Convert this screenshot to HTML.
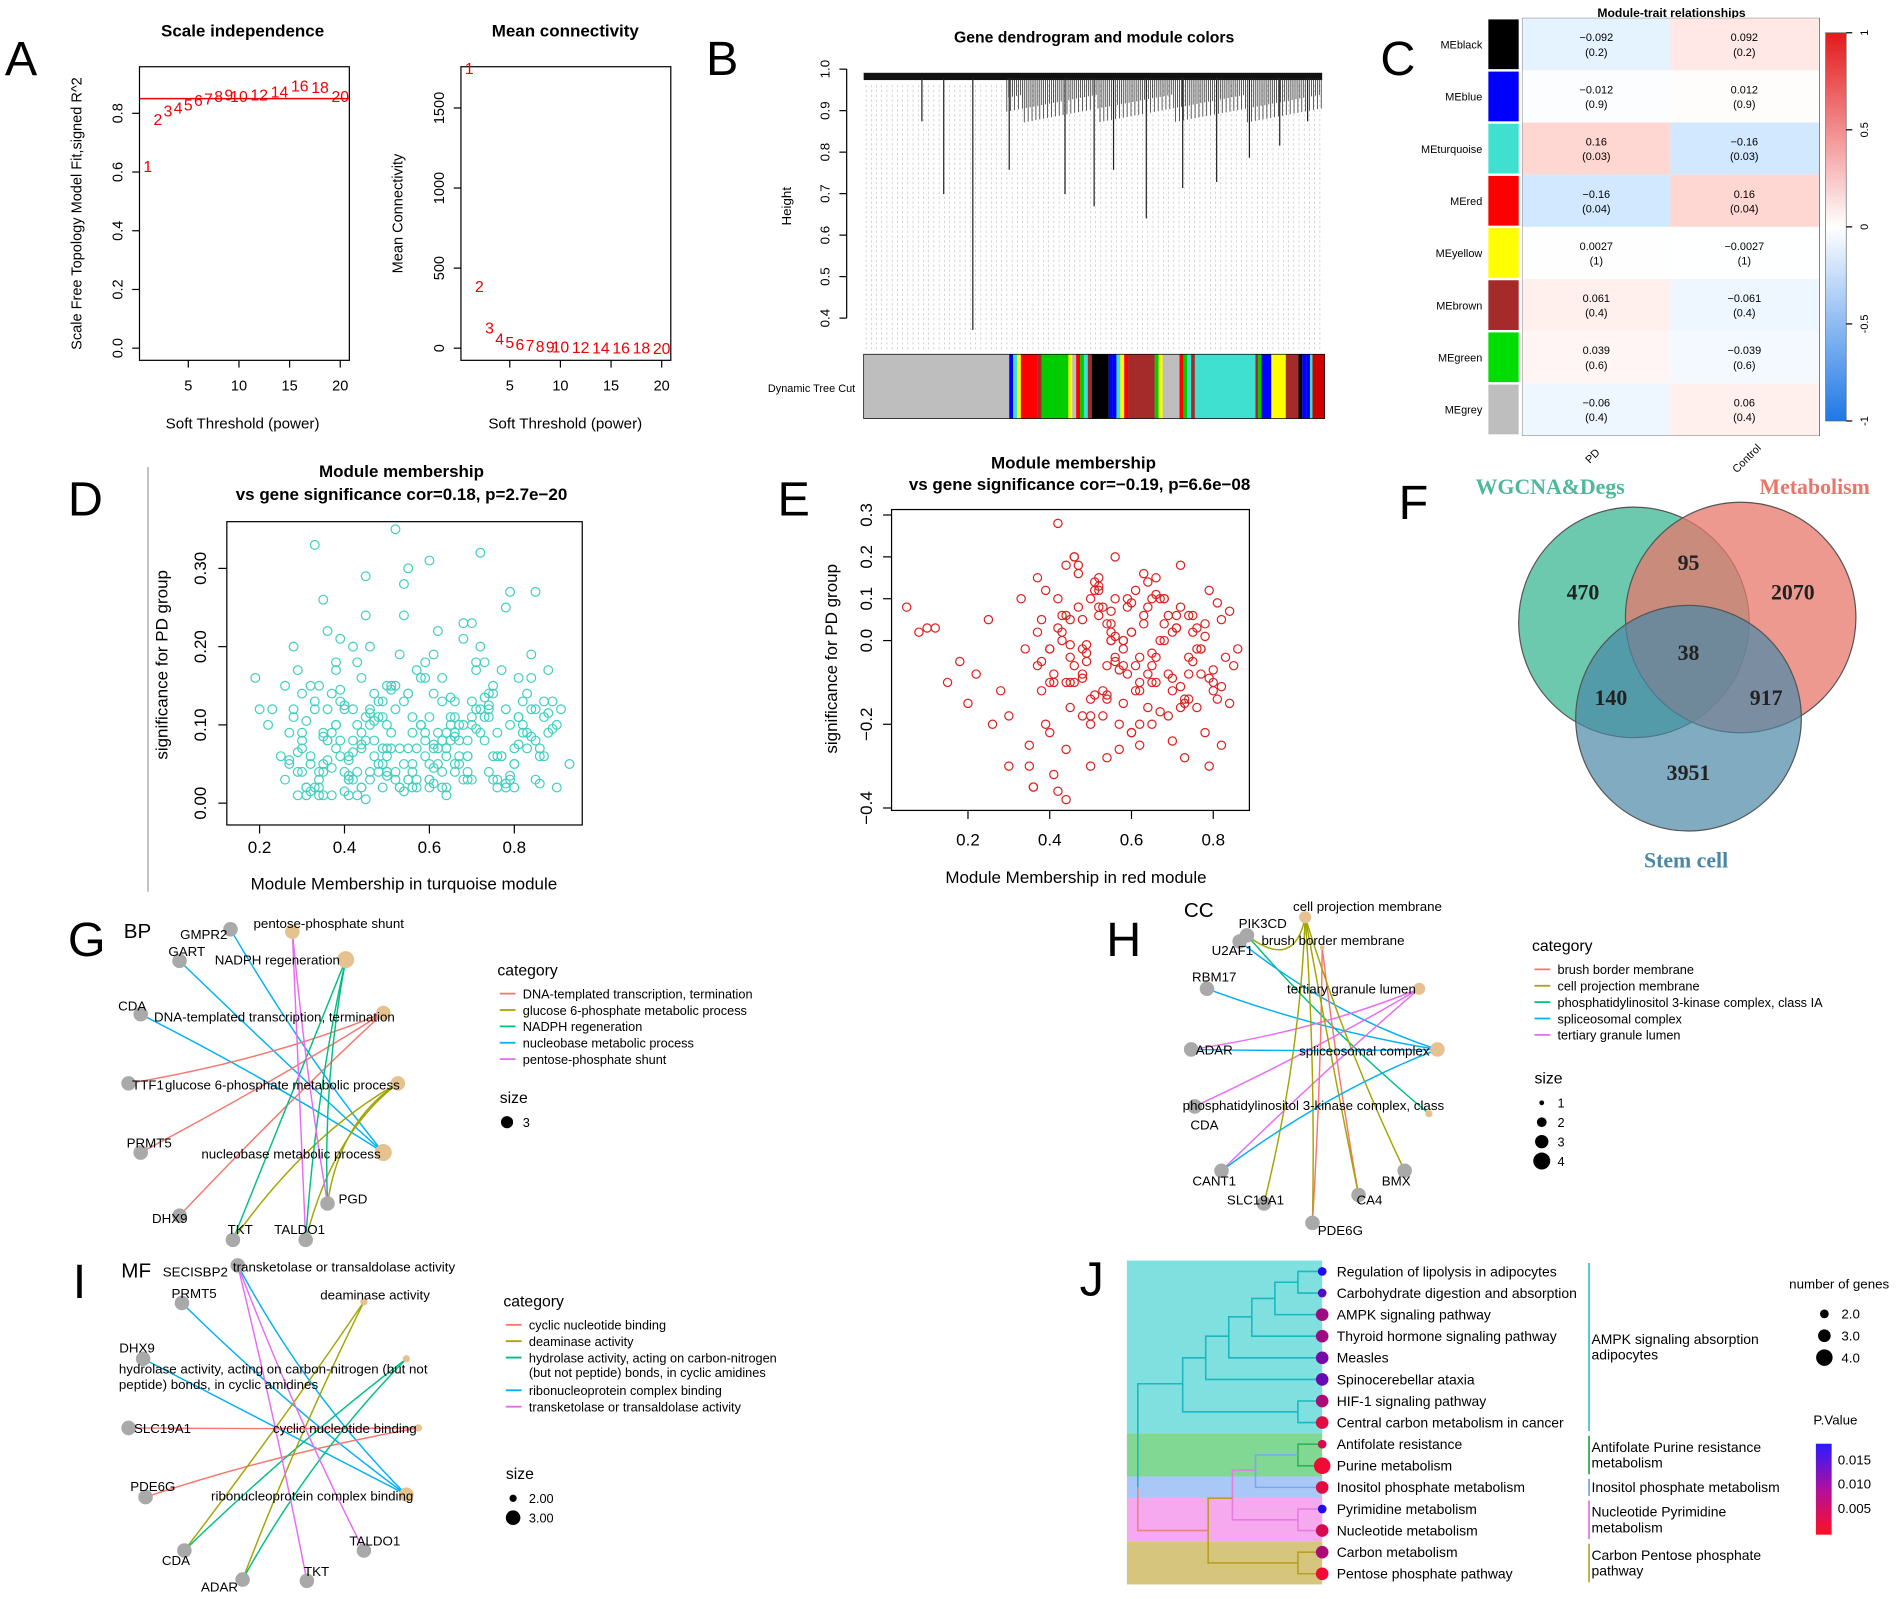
<!DOCTYPE html>
<html><head><meta charset="utf-8"><style>
html,body{margin:0;padding:0;background:#fff;}
svg{display:block;font-family:"Liberation Sans",Arial,sans-serif;}
</style></head><body>
<svg id="fig" width="1902" height="1599" viewBox="0 0 1568 1318" preserveAspectRatio="none" xmlns="http://www.w3.org/2000/svg">
<rect width="1568" height="1318" fill="#fff"/>
<g font-size="40" fill="#000">
<text x="4" y="62">A</text><text x="582" y="62">B</text><text x="1138" y="62">C</text>
<text x="56" y="425">D</text><text x="641" y="425">E</text><text x="1153" y="428">F</text>
<text x="56" y="788">G</text><text x="912" y="788">H</text><text x="60" y="1070">I</text><text x="890" y="1068">J</text>
</g>
<line x1="122" y1="385" x2="122" y2="735" stroke="#999" stroke-width="1"/>

<g id="pa">
<text x="200" y="30" font-size="14" font-weight="bold" text-anchor="middle">Scale independence</text>
<rect x="115" y="55" width="173" height="242" fill="none" stroke="#000"/>
<text x="200" y="353" font-size="12.5" text-anchor="middle">Soft Threshold (power)</text>
<text transform="translate(67,176) rotate(-90)" font-size="12" text-anchor="middle">Scale Free Topology Model Fit,signed R^2</text>
</g>
<g id="pa2">
<text x="466" y="30" font-size="14" font-weight="bold" text-anchor="middle">Mean connectivity</text>
<rect x="380" y="55" width="173" height="242" fill="none" stroke="#000"/>
<text x="466" y="353" font-size="12.5" text-anchor="middle">Soft Threshold (power)</text>
<text transform="translate(332,176) rotate(-90)" font-size="12" text-anchor="middle">Mean Connectivity</text>
</g>

<g id="pb">
<text x="902" y="35" font-size="13" font-weight="bold" text-anchor="middle">Gene dendrogram and module colors</text>
<text transform="translate(652,170) rotate(-90)" font-size="11" text-anchor="middle">Height</text>
<text x="705" y="323" font-size="9" text-anchor="end">Dynamic Tree Cut</text>
<rect x="712" y="292" width="380" height="53" fill="#bebebe"/>
</g>

<g id="pc">
<text x="1378" y="14" font-size="10" font-weight="bold" text-anchor="middle">Module-trait relationships</text>
<rect x="1255" y="15" width="245" height="344" fill="none" stroke="#555" stroke-width="0.6"/>
<text transform="translate(1315,378) rotate(-45)" font-size="9" text-anchor="middle">PD</text>
<text transform="translate(1442,380) rotate(-45)" font-size="9" text-anchor="middle">Control</text>
</g>

<g id="pd">
<text x="331" y="393" font-size="14" font-weight="bold" text-anchor="middle">Module membership</text>
<text x="331" y="412" font-size="14" font-weight="bold" text-anchor="middle">vs gene significance cor=0.18, p=2.7e−20</text>
<rect x="187" y="430" width="293" height="250" fill="none" stroke="#000"/>
<text x="333" y="733" font-size="14" text-anchor="middle">Module Membership in turquoise module</text>
<text transform="translate(138,548) rotate(-90)" font-size="14" text-anchor="middle">significance for PD group</text>
</g>
<g id="pe">
<text x="885" y="386" font-size="14" font-weight="bold" text-anchor="middle">Module membership</text>
<text x="890" y="404" font-size="14" font-weight="bold" text-anchor="middle">vs gene significance cor=−0.19, p=6.6e−08</text>
<rect x="735" y="420" width="295" height="248" fill="none" stroke="#000"/>
<text x="887" y="728" font-size="14" text-anchor="middle">Module Membership in red module</text>
<text transform="translate(690,543) rotate(-90)" font-size="14" text-anchor="middle">significance for PD group</text>
</g>

<g id="pf" font-family="Liberation Serif, serif" font-weight="bold">
<circle cx="1347" cy="513" r="95" fill="#52bfa0" fill-opacity="0.85" stroke="#555"/>
<circle cx="1435" cy="509" r="95" fill="#e8776b" fill-opacity="0.75" stroke="#555"/>
<circle cx="1392" cy="592" r="93" fill="#4a87a6" fill-opacity="0.7" stroke="#555"/>
<text x="1278" y="407" font-size="18" fill="#4db89a" text-anchor="middle">WGCNA&amp;Degs</text>
<text x="1496" y="407" font-size="18" fill="#e8776b" text-anchor="middle">Metabolism</text>
<text x="1390" y="715" font-size="18" fill="#4a87a6" text-anchor="middle">Stem cell</text>
<g font-size="18" fill="#222" text-anchor="middle">
<text x="1305" y="494">470</text><text x="1392" y="470">95</text><text x="1478" y="494">2070</text>
<text x="1392" y="544">38</text><text x="1328" y="581">140</text><text x="1456" y="581">917</text><text x="1392" y="643">3951</text>
</g>
</g>

<g id="nets"></g>
<g id="pj"></g>
</svg>
<script>
const NS='http://www.w3.org/2000/svg';
const fig=document.getElementById('fig');
function mk(tag,attrs,parent,txt){const e=document.createElementNS(NS,tag);for(const k in attrs)e.setAttribute(k,attrs[k]);if(txt!==undefined)e.textContent=txt;(parent||fig).appendChild(e);return e;}

// ---------- Panel A ----------
const powers=[1,2,3,4,5,6,7,8,9,10,12,14,16,18,20];
const r2Values=[0.62,0.78,0.81,0.82,0.83,0.845,0.85,0.86,0.865,0.86,0.865,0.875,0.895,0.89,0.86];
const connValues=[1750,390,130,62,38,26,19,15,12,10,8,6,5,4,3];
const aXTicks=[5,10,15,20];
const aYTicks1=[0,0.2,0.4,0.6,0.8];
const aYTicks2=[0,500,1000,1500];
const pa=document.getElementById('pa'),pa2=document.getElementById('pa2');
const ax1=v=>113.5+8.35*v, ay1=v=>287-242*v;
const ax2=v=>378.5+8.35*v, ay2=v=>287-0.132*v;
aXTicks.forEach(t=>{
 [[ax1,pa],[ax2,pa2]].forEach(([f,g])=>{mk('line',{x1:f(t),y1:297,x2:f(t),y2:303,stroke:'#000'},g);
 mk('text',{x:f(t),y:322,'font-size':12,'text-anchor':'middle'},g,t);});
});
aYTicks1.forEach(t=>{mk('line',{x1:109,y1:ay1(t),x2:115,y2:ay1(t),stroke:'#000'},pa);
 mk('text',{transform:`translate(101,${ay1(t)}) rotate(-90)`,'font-size':12,'text-anchor':'middle'},pa,t.toFixed(1));});
aYTicks2.forEach(t=>{mk('line',{x1:374,y1:ay2(t),x2:380,y2:ay2(t),stroke:'#000'},pa2);
 mk('text',{transform:`translate(366,${ay2(t)}) rotate(-90)`,'font-size':12,'text-anchor':'middle'},pa2,t);});
mk('line',{x1:115,y1:ay1(0.85),x2:288,y2:ay1(0.85),stroke:'#e00',"stroke-width":1.2},pa);
powers.forEach((p,i)=>{
 const t=mk('text',{x:ax1(p),y:ay1(r2Values[i])+5,'font-size':13,fill:'#e00','text-anchor':'middle'},pa,p);
 
 const u=mk('text',{x:ax2(p),y:ay2(connValues[i])+5,'font-size':13,fill:'#e00','text-anchor':'middle'},pa2,p);
 
});

// ---------- Panel B ----------
const pb=document.getElementById('pb');
const bYTicks=[0.4,0.5,0.6,0.7,0.8,0.9,1.0];
const by=v=>57+(1-v)*342;
bYTicks.forEach(t=>{mk('line',{x1:692,y1:by(t),x2:698,y2:by(t),stroke:'#000'},pb);
 mk('text',{transform:`translate(684,${by(t)}) rotate(-90)`,'font-size':11,'text-anchor':'middle'},pb,t.toFixed(1));});
mk('line',{x1:698,y1:by(0.4),x2:698,y2:by(1),stroke:'#000'},pb);
for(let x=714;x<1090;x+=4.3){mk('line',{x1:x,y1:70,x2:x,y2:290,stroke:'#bbb','stroke-width':0.5,'stroke-dasharray':'2,2'},pb);}
mk('rect',{x:712,y:60,width:378,height:6,fill:'#111'},pb);
const dendroLong=[[760,100],[778,160],[802,272],[832,140],[878,160],[902,170],[918,140],[945,180],[975,155],[1003,150],[1030,130],[1055,120],[1078,100]];
for(let x=830;x<1090;x+=1.6){mk('line',{x1:x,y1:64,x2:x,y2:78+((x*7)%23),stroke:'#222','stroke-width':0.6},pb);}
dendroLong.forEach(d=>mk('line',{x1:d[0],y1:64,x2:d[0],y2:d[1],stroke:'#222','stroke-width':1},pb));
const modColors=['#0000ff','#ff0000','#ffff00','#00cc00','#000000','#40e0d0','#a52a2a','#bebebe','#40e0d0','#0000ff','#ffff00','#00cc00','#ff0000','#a52a2a'];
let cx=832;
for(let i=0;cx<1092;i++){const w=(i%9===3)?14:(i%13===5?22:3.2);mk('rect',{x:cx,y:292,width:Math.min(w,1092-cx),height:53,fill:modColors[(i*5)%modColors.length]},pb);cx+=w;}
mk('rect',{x:985,y:292,width:50,height:53,fill:'#40e0d0'},pb);
mk('rect',{x:1040,y:292,width:8,height:53,fill:'#0000ff'},pb);
mk('rect',{x:1048,y:292,width:12,height:53,fill:'#ffff00'},pb);
mk('rect',{x:1082,y:292,width:10,height:53,fill:'#cc0000'},pb);
mk('rect',{x:712,y:292,width:380,height:53,fill:'none',stroke:'#000','stroke-width':0.6},pb);

// ---------- Panel C ----------
const modules=['MEblack','MEblue','MEturquoise','MEred','MEyellow','MEbrown','MEgreen','MEgrey'];
const modSwatch=['#000000','#0000ff','#40e0d0','#ff0000','#ffff00','#a52a2a','#00dd00','#bebebe'];
const corPD=[-0.092,-0.012,0.16,-0.16,0.0027,0.061,0.039,-0.06];
const corCtrl=[0.092,0.012,-0.16,0.16,-0.0027,-0.061,-0.039,0.06];
const pVals=['0.2','0.9','0.03','0.04','1','0.4','0.6','0.4'];
const cbTicks=[1,0.5,0,-0.5,-1];
const pc=document.getElementById('pc');
function cmap(v){const a=Math.min(1,Math.abs(v)*1.1);
 if(v>=0){return `rgb(255,${Math.round(255-a*230)},${Math.round(255-a*255)})`;}
 return `rgb(${Math.round(255-a*255)},${Math.round(255-a*130)},255)`;}
const rowY=i=>15+i*43;
modules.forEach((m,i)=>{
 mk('rect',{x:1227,y:rowY(i)+1,width:25,height:41,fill:modSwatch[i]},pc);
 mk('text',{x:1222,y:rowY(i)+25,'font-size':9,'text-anchor':'end'},pc,m);
 [[corPD,1255],[corCtrl,1377]].forEach(([arr,x0])=>{
  const r=mk('rect',{x:x0,y:rowY(i),width:122.5,height:43,fill:cmap(arr[i])},pc);
  
  mk('text',{x:x0+61,y:rowY(i)+19,'font-size':9,'text-anchor':'middle'},pc,arr[i]<0?'−'+Math.abs(arr[i]):arr[i]);
  mk('text',{x:x0+61,y:rowY(i)+31,'font-size':9,'text-anchor':'middle'},pc,'('+pVals[i]+')');
 });
});
const grad=mk('linearGradient',{id:'cbg',x1:0,y1:0,x2:0,y2:1},mk('defs',{},pc));
[['0%','#e41a1c'],['50%','#ffffff'],['100%','#1e78e6']].forEach(s=>mk('stop',{offset:s[0],'stop-color':s[1]},grad));
mk('rect',{x:1505,y:27,width:17,height:320,fill:'url(#cbg)',stroke:'#555','stroke-width':0.5},pc);
cbTicks.forEach(t=>{const y=187-t*160;mk('line',{x1:1522,y1:y,x2:1527,y2:y,stroke:'#000'},pc);
 mk('text',{transform:`translate(1540,${y}) rotate(-90)`,'font-size':9,'text-anchor':'middle'},pc,t);});

// ---------- Panel D ----------
const mmD=[0.31,0.35,0.42,0.28,0.55,0.61,0.47,0.38,0.72,0.66,0.33,0.29,0.44,0.51,0.58,0.63,0.36,0.41,0.48,0.53,0.69,0.75,0.81,0.86,0.27,0.34,0.39,0.45,0.5,0.57,0.62,0.68,0.74,0.79,0.84,0.9,0.3,0.37,0.43,0.49,0.54,0.6,0.65,0.71,0.77,0.83,0.88,0.32,0.4,0.46,0.52,0.59,0.64,0.7,0.76,0.82,0.87,0.25,0.35,0.42,0.47,0.56,0.61,0.67,0.73,0.78,0.85,0.91,0.29,0.38,0.44,0.5,0.55,0.63,0.68,0.72,0.8,0.86,0.22,0.33,0.41,0.46,0.53,0.58,0.66,0.74,0.79,0.89,0.31,0.36,0.43,0.48,0.57,0.62,0.69,0.75,0.83,0.2,0.27,0.39,0.45,0.51,0.6,0.65,0.71,0.77,0.84,0.34,0.4,0.49,0.54,0.59,0.64,0.7,0.81,0.87,0.93,0.3,0.37,0.42,0.52,0.58,0.67,0.73,0.78,0.85,0.26,0.35,0.44,0.5,0.56,0.61,0.68,0.76,0.82,0.88,0.32,0.38,0.46,0.55,0.63,0.72,0.8,0.45,0.52,0.6,0.41,0.5,0.57,0.19,0.23,0.28,0.36,0.48,0.62,0.7,0.9,0.35,0.44,0.53,0.66,0.3,0.34,0.39,0.43,0.47,0.52,0.56,0.6,0.64,0.69,0.73,0.78,0.32,0.37,0.41,0.46,0.5,0.55,0.59,0.63,0.67,0.71,0.76,0.81,0.33,0.38,0.42,0.49,0.54,0.61,0.66,0.74,
0.26,0.29,0.31,0.34,0.36,0.39,0.41,0.44,0.46,0.49,0.51,0.54,0.56,0.59,0.61,0.64,0.66,0.69,0.71,0.74,0.76,0.79,0.81,0.84,0.86,0.89,
0.27,0.3,0.32,0.35,0.37,0.4,0.42,0.45,0.47,0.5,0.52,0.55,0.57,0.6,0.62,0.65,0.67,0.7,0.72,0.75,0.77,0.8,0.82,0.85,0.87,
0.28,0.33,0.38,0.43,0.48,0.53,0.58,0.63,0.68,0.73,0.78,0.83,0.88,0.3,0.35,0.4,0.45,0.5,0.55,0.6,0.65,0.7,0.75,0.8,0.85,
0.29,0.34,0.39,0.44,0.49,0.54,0.59,0.64,0.69,0.74,0.79,0.84,0.31,0.36,0.41,0.46,0.51,0.56,0.61,0.66,0.71,0.76,0.81,0.86];
const gsD=[0.02,0.05,0.08,0.11,0.03,0.14,0.06,0.18,0.09,0.04,0.12,0.01,0.16,0.07,0.1,0.13,0.22,0.03,0.05,0.19,0.08,0.15,0.11,0.06,0.09,0.02,0.13,0.24,0.04,0.17,0.07,0.21,0.12,0.03,0.16,0.1,0.07,0.01,0.1,0.05,0.28,0.02,0.11,0.18,0.06,0.14,0.09,0.15,0.04,0.2,0.12,0.08,0.01,0.23,0.03,0.1,0.13,0.06,0.26,0.03,0.14,0.09,0.19,0.05,0.11,0.25,0.08,0.12,0.17,0.07,0.02,0.15,0.3,0.04,0.1,0.2,0.02,0.07,0.1,0.33,0.06,0.12,0.02,0.16,0.09,0.04,0.27,0.13,0.01,0.08,0.18,0.11,0.03,0.22,0.06,0.14,0.09,0.12,0.05,0.21,0.08,0.15,0.03,0.1,0.17,0.06,0.19,0.04,0.12,0.07,0.24,0.09,0.02,0.13,0.16,0.11,0.05,0.08,0.14,0.2,0.03,0.1,0.06,0.18,0.12,0.27,0.15,0.01,0.09,0.04,0.11,0.07,0.23,0.02,0.13,0.17,0.06,0.1,0.03,0.14,0.08,0.32,0.05,0.29,0.35,0.31,0.03,0.1,0.07,0.16,0.12,0.2,0.08,0.04,0.09,0.11,0.02,0.04,0.07,0.02,0.05,0.09,0.03,0.06,0.01,0.08,0.04,0.02,0.05,0.06,0.03,0.08,0.02,0.05,0.09,0.01,0.04,0.07,0.03,0.06,0.02,0.1,0.12,0.09,0.11,0.13,0.1,0.12,0.11,
0.015,0.045,0.085,0.125,0.03,0.065,0.105,0.01,0.055,0.145,0.035,0.075,0.115,0.02,0.09,0.13,0.05,0.16,0.025,0.07,0.11,0.04,0.095,0.14,0.06,0.1,
0.075,0.12,0.025,0.095,0.055,0.14,0.015,0.085,0.045,0.125,0.065,0.005,0.105,0.035,0.15,0.07,0.02,0.11,0.05,0.135,0.08,0.03,0.12,0.06,0.17,
0.05,0.09,0.03,0.06,0.12,0.02,0.17,0.04,0.13,0.07,0.1,0.16,0.03,0.135,0.025,0.07,0.115,0.04,0.09,0.015,0.11,0.06,0.14,0.03,0.08,
0.1,0.03,0.07,0.12,0.04,0.15,0.08,0.02,0.13,0.05,0.18,0.09,0.06,0.11,0.035,0.085,0.02,0.12,0.055,0.1,0.145,0.04,0.075,0.13];
const dXTicks=[0.2,0.4,0.6,0.8], dYTicks=[0,0.1,0.2,0.3];
const pd=document.getElementById('pd');
const dx=v=>214+(v-0.2)*350, dy=v=>662-v*645;
dXTicks.forEach(t=>{mk('line',{x1:dx(t),y1:680,x2:dx(t),y2:687,stroke:'#000'},pd);mk('text',{x:dx(t),y:703,'font-size':14,'text-anchor':'middle'},pd,t.toFixed(1));});
dYTicks.forEach(t=>{mk('line',{x1:180,y1:dy(t),x2:187,y2:dy(t),stroke:'#000'},pd);mk('text',{transform:`translate(170,${dy(t)}) rotate(-90)`,'font-size':14,'text-anchor':'middle'},pd,t.toFixed(2));});
for(let i=0;i<Math.min(mmD.length,gsD.length);i++){
 const c=mk('circle',{cx:dx(mmD[i]),cy:dy(gsD[i]),r:3.6,fill:'none',stroke:'#40d0c0','stroke-width':1},pd);
 
}

// ---------- Panel E ----------
const mmE=[0.05,0.08,0.12,0.18,0.22,0.25,0.28,0.3,0.33,0.35,0.37,0.4,0.42,0.44,0.46,0.48,0.5,0.52,0.54,0.56,0.58,0.6,0.62,0.64,0.66,0.68,0.7,0.72,0.74,0.76,0.78,0.8,0.82,0.84,0.86,0.36,0.39,0.41,0.43,0.45,0.47,0.49,0.51,0.53,0.55,0.57,0.59,0.61,0.63,0.65,0.67,0.69,0.71,0.73,0.75,0.77,0.79,0.81,0.83,0.38,0.4,0.42,0.44,0.46,0.48,0.5,0.52,0.54,0.56,0.58,0.6,0.62,0.64,0.66,0.68,0.7,0.72,0.74,0.76,0.78,0.8,0.35,0.37,0.41,0.43,0.45,0.47,0.49,0.51,0.53,0.55,0.57,0.59,0.61,0.63,0.65,0.67,0.69,0.71,0.73,0.75,0.77,0.79,0.45,0.5,0.55,0.6,0.65,0.7,0.4,0.48,0.52,0.58,0.62,0.66,0.42,0.46,0.54,0.64,0.68,0.72,0.85,0.3,0.26,0.2,0.15,0.1,0.34,0.38,0.44,0.56,0.74,0.82,
0.36,0.4,0.44,0.48,0.52,0.56,0.6,0.64,0.68,0.72,0.76,0.8,0.84,0.38,0.42,0.46,0.5,0.54,0.58,0.62,0.66,0.7,0.74,0.78,0.82,0.37,0.41,0.45,0.49,0.53,0.57,0.61,0.65,0.69,0.73,0.77,0.81,0.39,0.43,0.47,0.51,0.55,0.59,0.63,0.67,0.71,0.75,0.79,0.45,0.5,0.55,0.6,0.65,0.48,0.52,0.56,0.62,0.58,0.44,0.54];
const gsE=[0.08,0.02,0.03,-0.05,-0.08,0.05,-0.12,-0.18,0.1,-0.3,0.15,-0.02,0.28,0.18,-0.1,0.05,-0.2,0.12,-0.06,0.2,-0.15,0.02,-0.25,0.08,-0.04,0.1,-0.12,0.18,-0.08,0.03,-0.22,-0.1,0.05,-0.15,-0.02,-0.35,0.12,-0.08,0.02,-0.16,0.08,-0.03,0.14,-0.12,0.04,-0.2,0.1,-0.06,0.16,-0.1,0.0,-0.18,0.06,-0.28,0.02,-0.08,0.12,-0.14,-0.04,0.05,-0.22,0.1,-0.1,0.2,-0.02,-0.3,0.06,-0.14,0.1,-0.06,0.02,-0.2,0.14,-0.1,0.0,-0.24,0.08,-0.04,-0.16,0.04,-0.12,-0.25,0.02,-0.32,0.06,-0.1,0.18,-0.05,0.12,-0.18,0.0,-0.26,0.08,-0.12,0.04,-0.2,0.1,-0.08,0.03,-0.14,0.06,-0.02,-0.3,-0.04,-0.14,0.0,-0.22,-0.06,0.02,-0.1,-0.18,0.08,-0.02,-0.12,0.15,-0.36,0.2,-0.28,-0.08,0.1,-0.16,-0.06,-0.3,-0.2,-0.15,-0.1,0.03,-0.02,-0.05,-0.38,0.01,0.06,-0.25,-0.35,
-0.02,0.06,-0.09,0.13,-0.05,0.09,-0.16,0.04,-0.11,-0.02,-0.07,0.07,-0.12,0.03,-0.06,0.1,-0.13,0.0,-0.04,0.11,-0.09,-0.14,0.01,-0.11,-0.06,-0.1,0.05,-0.01,0.08,-0.07,0.12,-0.03,0.06,-0.15,-0.02,0.09,-0.2,0.0,0.16,-0.13,0.02,-0.08,0.06,-0.17,0.03,-0.05,-0.09,-0.01,-0.18,0.07,-0.22,0.1,-0.08,0.15,-0.04,-0.1,0.0,-0.26,0.04,-0.14];
const eXTicks=[0.2,0.4,0.6,0.8], eYTicks=[-0.4,-0.2,0,0.1,0.2,0.3];
const pe=document.getElementById('pe');
const ex=v=>798+(v-0.2)*337, ey=v=>528-v*345;
eXTicks.forEach(t=>{mk('line',{x1:ex(t),y1:668,x2:ex(t),y2:675,stroke:'#000'},pe);mk('text',{x:ex(t),y:697,'font-size':14,'text-anchor':'middle'},pe,t.toFixed(1));});
eYTicks.forEach(t=>{mk('line',{x1:728,y1:ey(t),x2:735,y2:ey(t),stroke:'#000'},pe);mk('text',{transform:`translate(719,${ey(t)}) rotate(-90)`,'font-size':14,'text-anchor':'middle'},pe,t===0?'0.0':(t<0?'−':'')+Math.abs(t).toFixed(1));});
for(let i=0;i<Math.min(mmE.length,gsE.length);i++){
 const c=mk('circle',{cx:ex(mmE[i]),cy:ey(gsE[i]),r:3.4,fill:'none',stroke:'#e02020','stroke-width':1},pe);
 
}

// ---------- Networks ----------
const catCols=['#f8766d','#a3a500','#00bf7d','#00b0f6','#e76bf3'];
const nets=document.getElementById('nets');
// genes: [name, nodeX, nodeY, labelX, labelY]; cats: [label, nodeX, nodeY, colorIdx, textX, textY, r]
// edges: [geneIndex, categoryLegendIndex]
function network(name,hub,genes,cats,edges,tag,tagPos){
 const g=mk('g',{},nets);
 
 mk('text',{x:tagPos[0],y:tagPos[1],'font-size':17},g,tag);
 edges.forEach(e=>{const a=genes[e[0]],b=cats.find(c=>c[3]===e[1]);
  const mx=(a[1]+b[1])/2,my=(a[2]+b[2])/2;
  const qx=mx+0.35*(hub[0]-mx),qy=my+0.35*(hub[1]-my);
  mk('path',{d:`M${a[1]},${a[2]} Q${qx},${qy} ${b[1]},${b[2]}`,fill:'none',stroke:catCols[b[3]],'stroke-width':1.2},g);});
 genes.forEach(n=>{mk('circle',{cx:n[1],cy:n[2],r:6,fill:'#a9a9a9'},g);
  mk('text',{x:n[3],y:n[4],'font-size':11,'text-anchor':'middle'},g,n[0]);});
 cats.forEach(n=>{if(n[6]>0)mk('circle',{cx:n[1],cy:n[2],r:n[6],fill:'#e5c28f'},g);
  mk('text',{x:n[4],y:n[5],'font-size':11},g,n[0]);});
}
function legend(x,y,labels,sizes,sy){
 const g=mk('g',{},nets);
 
 mk('text',{x:x,y:y,'font-size':13},g,'category');
 let yy=y+19;
 labels.forEach((l,i)=>{const ls=Array.isArray(l)?l:[l];
  mk('line',{x1:x+2,y1:yy-4,x2:x+15,y2:yy-4,stroke:catCols[i],'stroke-width':1.5},g);
  ls.forEach((t,j)=>mk('text',{x:x+21,y:yy+j*12,'font-size':10.5},g,t));
  yy+=13.5*ls.length;});
 mk('text',{x:x+2,y:sy,'font-size':13},g,'size');
 sizes.forEach((s,i)=>{mk('circle',{cx:x+8,cy:sy+16+i*16,r:s[0],fill:'#000'},g);mk('text',{x:x+21,y:sy+20+i*16,'font-size':10.5},g,s[1]);});
}
network('panel-g-bp-network',[245,890],
 [['GMPR2',190,766,168,774],['GART',148,792,154,788],['CDA',116,836,109,833],['TTF1',106,893,122,898],['PRMT5',116,950,123,946],['DHX9',148,1002,140,1008],['TKT',192,1022,198,1017],['TALDO1',252,1022,247,1017],['PGD',270,992,291,992]],
 [['pentose-phosphate shunt',241,768,4,209,765,6],['NADPH regeneration',285,791,2,177,795,7],['DNA-templated transcription, termination',316,835,0,127,842,6],['glucose 6-phosphate metabolic process',328,893,1,136,898,6],['nucleobase metabolic process',316,950,3,166,955,7]],
 [[0,3],[1,3],[2,3],[3,0],[4,0],[5,0],[6,1],[6,2],[7,1],[7,2],[7,4],[8,1],[8,2],[8,4]],'BP',[102,773]);
legend(410,804,['DNA-templated transcription, termination','glucose 6-phosphate metabolic process','NADPH regeneration','nucleobase metabolic process','pentose-phosphate shunt'],[[5,'3']],909);

network('panel-h-cc-network',[1095,870],
 [['PIK3CD',1028,771,1041,765],['U2AF1',1022,776,1016,787],['RBM17',995,815,1001,809],['ADAR',982,865,1001,869],['CDA',985,912,993,931],['CANT1',1007,965,1001,977],['SLC19A1',1042,992,1035,993],['PDE6G',1082,1008,1105,1018],['CA4',1120,985,1129,993],['BMX',1158,965,1151,977]],
 [['cell projection membrane',1076,756,1,1066,751,5],['brush border membrane',1090,781,0,1040,779,2],['tertiary granule lumen',1170,815,4,1061,819,5],['spliceosomal complex',1185,865,3,1071,870,6],['phosphatidylinositol 3-kinase complex, class',1178,918,2,975,915,3]],
 [[0,1],[0,2],[1,3],[2,3],[3,3],[3,4],[4,4],[5,4],[6,1],[7,1],[7,0],[8,0],[8,1],[9,1],[5,3]],'CC',[976,756]);
legend(1263,784,['brush border membrane','cell projection membrane','phosphatidylinositol 3-kinase complex, class IA','spliceosomal complex','tertiary granule lumen'],[[2,'1'],[4,'2'],[5.5,'3'],[7,'4']],893);

network('panel-i-mf-network',[235,1180],
 [['SECISBP2',196,1043,161,1052],['PRMT5',150,1074,160,1070],['DHX9',118,1120,113,1115],['SLC19A1',106,1177,134,1181],['PDE6G',120,1234,126,1229],['CDA',152,1278,145,1290],['ADAR',200,1302,181,1312],['TKT',253,1303,261,1299],['TALDO1',300,1278,309,1274]],
 [['transketolase or transaldolase activity',196,1043,4,192,1048,0],['deaminase activity',300,1073,1,264,1071,3],['hydrolase activity, acting on carbon-nitrogen (but not',335,1120,2,98,1132,3],['cyclic nucleotide binding',345,1177,0,225,1181,3],['ribonucleoprotein complex binding',335,1232,3,174,1237,6]],
 [[0,3],[1,3],[2,3],[3,0],[4,0],[5,2],[5,1],[6,1],[6,2],[7,4],[8,4]],'MF',[100,1053]);
mk('text',{x:98,y:1145,'font-size':11},nets,'peptide) bonds, in cyclic amidines');
legend(415,1077,['cyclic nucleotide binding','deaminase activity',['hydrolase activity, acting on carbon-nitrogen','(but not peptide) bonds, in cyclic amidines'],'ribonucleoprotein complex binding','transketolase or transaldolase activity'],[[3,'2.00'],[6,'3.00']],1219);

// ---------- Panel J ----------
const pathways=['Regulation of lipolysis in adipocytes','Carbohydrate digestion and absorption','AMPK signaling pathway','Thyroid hormone signaling pathway','Measles','Spinocerebellar ataxia','HIF-1 signaling pathway','Central carbon metabolism in cancer','Antifolate resistance','Purine metabolism','Inositol phosphate metabolism','Pyrimidine metabolism','Nucleotide metabolism','Carbon metabolism','Pentose phosphate pathway'];
const geneCounts=[2,2,3,3,3,3,3,3,2,4,3,2,3,3,3];
const pValues=[0.017,0.013,0.008,0.008,0.011,0.012,0.007,0.003,0.004,0.002,0.003,0.017,0.004,0.007,0.002];
const pj=document.getElementById('pj');
const jy=i=>1048+i*17.8;
const bands=[[0,7,'#80dfdf'],[8,9,'#80d893'],[10,10,'#aac8f7'],[11,12,'#f6a9ef'],[13,14,'#d6c57d']];
bands.forEach(b=>mk('rect',{x:929,y:jy(b[0])-9,width:161,height:jy(b[1])-jy(b[0])+17.8,fill:b[2]},pj));
const tc='#1ab8c0';
function seg(pts,c){mk('polyline',{points:pts.map(p=>p.join(',')).join(' '),fill:'none',stroke:c,'stroke-width':1.3},pj);}
seg([[1090,jy(0)],[1070,jy(0)],[1070,jy(1)],[1090,jy(1)]],tc);
seg([[1070,jy(0.5)],[1051,jy(0.5)],[1051,jy(2)],[1090,jy(2)]],tc);
seg([[1051,jy(1.25)],[1032,jy(1.25)],[1032,jy(3)],[1090,jy(3)]],tc);
seg([[1032,jy(2.1)],[1013,jy(2.1)],[1013,jy(4)],[1090,jy(4)]],tc);
seg([[1013,jy(3)],[994,jy(3)],[994,jy(5)],[1090,jy(5)]],tc);
seg([[1090,jy(6)],[1070,jy(6)],[1070,jy(7)],[1090,jy(7)]],tc);
seg([[994,jy(4)],[975,jy(4)],[975,jy(6.5)],[1070,jy(6.5)]],tc);
seg([[975,jy(5.2)],[938,jy(5.2)],[938,jy(10)]],tc);
seg([[1090,jy(8)],[1070,jy(8)],[1070,jy(9)],[1090,jy(9)]],'#2db35d');
seg([[1070,jy(8.5)],[1035,jy(8.5)],[1035,jy(10)],[1090,jy(10)]],'#7aa6ee');
seg([[1090,jy(11)],[1070,jy(11)],[1070,jy(12)],[1090,jy(12)]],'#e77be0');
seg([[1035,jy(9.2)],[1016,jy(9.2)],[1016,jy(11.5)],[1070,jy(11.5)]],'#e77be0');
seg([[1090,jy(13)],[1070,jy(13)],[1070,jy(14)],[1090,jy(14)]],'#b8a020');
seg([[1016,jy(10.5)],[996,jy(10.5)],[996,jy(13.5)],[1070,jy(13.5)]],'#b8a020');
seg([[938,jy(10)],[938,jy(12)],[996,jy(12)]],'#f08080');
function pcol(p){const t=Math.min(1,Math.max(0,(p-0.001)/0.017));return `rgb(${Math.round(255-t*235)},10,${Math.round(40+t*215)})`;}
pathways.forEach((n,i)=>{
 const c=mk('circle',{cx:1090,cy:jy(i),r:2+geneCounts[i]*1.6-1.6,fill:pcol(pValues[i])},pj);
 
 mk('text',{x:1102,y:jy(i)+4,'font-size':11.5},pj,n);
});
const groups=[[0,7,'#40c8d0',['AMPK signaling absorption','adipocytes']],[8,9,'#30b050',['Antifolate Purine resistance','metabolism']],[10,10,'#7aa6ee',['Inositol phosphate metabolism']],[11,12,'#e77be0',['Nucleotide Pyrimidine','metabolism']],[13,14,'#c0a830',['Carbon Pentose phosphate','pathway']]];
groups.forEach(g=>{const y0=jy(g[0])-7,y1=jy(g[1])+7;mk('line',{x1:1310,y1:y0,x2:1310,y2:y1,stroke:g[2],'stroke-width':1.5},pj);
 const ym=(y0+y1)/2-(g[3].length-1)*6.5+4;g[3].forEach((t,j)=>mk('text',{x:1312,y:ym+j*13,'font-size':11.5},pj,t));});
mk('text',{x:1475,y:1062,'font-size':11},pj,'number of genes');
[[2,'2.0',1083],[3,'3.0',1101],[4,'4.0',1119]].forEach(s=>{mk('circle',{cx:1504,cy:s[2],r:2+s[0]*1.6-1.6,fill:'#000'},pj);mk('text',{x:1518,y:s[2]+4,'font-size':11},pj,s[1]);});
mk('text',{x:1495,y:1174,'font-size':11},pj,'P.Value');
const g2=mk('linearGradient',{id:'pvg',x1:0,y1:0,x2:0,y2:1},mk('defs',{},pj));
[['0%','#2a1aff'],['50%','#b010a0'],['100%','#ff1020']].forEach(s=>mk('stop',{offset:s[0],'stop-color':s[1]},g2));
mk('rect',{x:1497,y:1190,width:13,height:75,fill:'url(#pvg)'},pj);
[['0.015',1207],['0.010',1227],['0.005',1247]].forEach(t=>mk('text',{x:1515,y:t[1],'font-size':11},pj,t[0]));
</script>
</body></html>
